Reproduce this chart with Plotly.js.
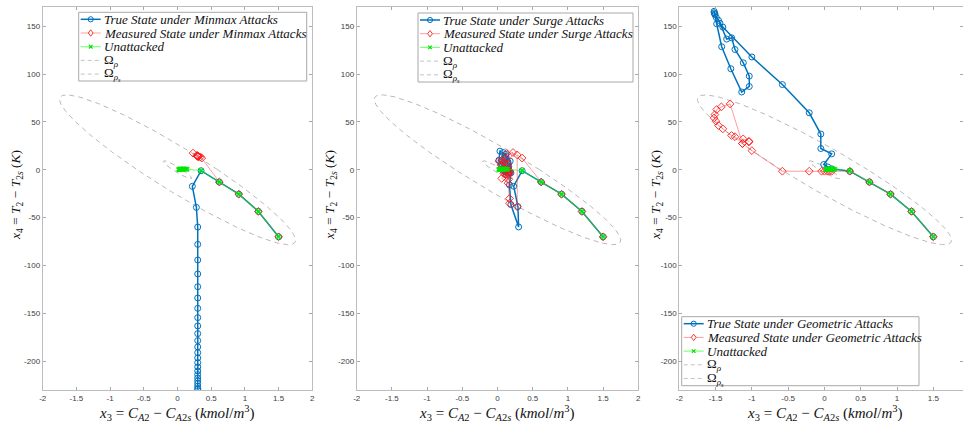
<!DOCTYPE html>
<html><head><meta charset="utf-8">
<script src="https://cdn.plot.ly/plotly-3.0.1.min.js"></script>
<style>html,body{margin:0;padding:0;background:#fff;} #chart{width:963px;height:428px;}</style>
</head><body><div id="chart"></div>
<script>
// ---------------- data ----------------
const xTickVals = [-2,-1.5,-1,-0.5,0,0.5,1,1.5,2];
const xTickText = ['-2','-1.5','-1','-0.5','0','0.5','1','1.5','2'];
const yTickVals = [-200,-150,-100,-50,0,50,100,150];
const yTickText = ['-200','-150','-100','-50','0','50','100','150'];

// Level sets  x' P x = rho   (P = [[pA,pB],[pB,pC]])
const pA = 2.796, pB = 0.0588, pC = 0.0014;
const rhoLevel = 1.0;
const rhoSLevel = 0.0145;

// Unattacked trajectory
const unattX = [1.5,1.2,0.91,0.62,0.35,0.14,0.12,0.10,0.085,0.07,0.06,0.05,0.042,0.035,0.03,0.025,0.02];
const unattY = [-70,-43.5,-25.5,-12.8,-1,0.6,0.7,0.7,0.7,0.6,0.6,0.5,0.5,0.4,0.4,0.3,0.3];

// Minmax attacks
const minmaxTrueX = [1.5,1.2,0.91,0.62,0.35,0.22,0.28,0.30,0.30,0.30,0.30,0.30,0.30,0.30,0.30,0.30,0.30,0.30,0.30,0.30,0.30,0.30,0.30,0.30,0.30,0.30,0.30,0.30,0.30,0.30,0.30];
const minmaxTrueY = [-70,-43.5,-25.5,-12.8,-1,-17.3,-39.3,-59.8,-77.9,-94.2,-108.8,-122.1,-133.9,-144.7,-154.4,-163.1,-171.1,-178.4,-185.0,-191.0,-196.5,-201.4,-205.9,-210.1,-213.9,-217.4,-220.5,-223.3,-226.1,-228.5,-229.5];
const minmaxMeasX = [1.5,1.2,0.91,0.62,0.36,0.23,0.29,0.31,0.34,0.30,0.29,0.30,0.31,0.30];
const minmaxMeasY = [-70,-43.5,-25.5,-12.8,12.2,17.4,15.0,14.0,13.3,14.2,14.8,14.3,13.6,14.0];

// Surge attacks
const surgeTrueX = [1.5,1.2,0.91,0.62,0.35,0.23,0.29,0.30,0.19,0.17,0.19,0.18,0.12,0.035,0.02,0.06,0.10,0.15,0.12,0.08,0.05,0.09,0.13,0.16,0.17,0.12,0.08,0.06,0.10,0.14,0.16,0.12,0.11,0.13,0.14,0.13];
const surgeTrueY = [-70,-43.5,-25.5,-12.8,-1,-17.2,-38.5,-59.7,-36.3,-15.8,-3.2,9,16,19.4,10,6,10,8,14,18,8,2,5,3,-3,-5,-1,4,12,7,-3,0,-2,1,0,-1];
const surgeMeasX = [1.5,1.2,0.91,0.62,0.35,0.28,0.28,0.17,0.17,0.15,0.06,0.09,0.05,0.02,0.12,0.13,0.22,0.15,0.08,0.12,0.16,0.17,0.14,0.10,0.06,0.12,0.16,0.13,0.17,0.15,0.16];
const surgeMeasY = [-70,-43.5,-25.5,-12.8,12.2,15.5,-38.5,-35,-30,-14,-9,-4,5,9,12,17,18,6,1,-3,-5,-1,3,8,10,-2,-10,-6,-3,0,-2];

// Geometric attacks
const geoTrueX = [1.5,1.2,0.91,0.62,0.35,0.10,0.045,-0.01,0.10,-0.05,-0.05,-0.21,-0.58,-1.0,-1.40,-1.46,-1.49,-1.51,-1.52,-1.52,-1.51,-1.485,-1.416,-1.29,-1.14,-1.036,-1.036,-1.118,-1.233,-1.278,-1.347,-1.44];
const geoTrueY = [-70,-43.5,-25.5,-12.8,-1.5,1,3,5.5,16.6,22.2,37.3,59.5,89,117.8,149,156,159,162,164,165.5,163,152.5,128.5,105.5,81.2,87,97.8,111.7,125.6,137.8,136.5,153];
const geoMeasX = [1.5,1.2,0.91,0.62,0.35,0.10,0.07,0.04,0.0,-0.04,-0.21,-0.58,-1.0,-1.13,-1.233,-1.28,-1.40,-1.46,-1.495,-1.52,-1.51,-1.485,-1.42,-1.30,-1.13,-1.12,-1.04,-1.04];
const geoMeasY = [-70,-43.5,-25.5,-12.8,-1.5,-1.5,-1.5,-1.5,-1.5,-1.5,-1.5,-1.5,20,27.4,34.5,35.8,42.7,46.2,50.7,54.2,57.7,62.9,65.7,68.8,27.4,32.3,29.8,29.0];

const attackNames = ['Minmax','Surge','Geometric'];

// ---------------- helpers ----------------
function levelSet(rho){
  const L11 = Math.sqrt(pA), L21 = pB/Math.sqrt(pA), L22 = Math.sqrt(pC - pB*pB/pA);
  const xs=[], ys=[], s=Math.sqrt(rho);
  for(let k=0;k<=360;k++){
    const t=k*Math.PI/180, u1=s*Math.cos(t), u2=s*Math.sin(t);
    const x2=u2/L22, x1=(u1-L21*x2)/L11;
    xs.push(x1); ys.push(x2);
  }
  return {x:xs,y:ys};
}
const bigE = levelSet(rhoLevel), smallE = levelSet(rhoSLevel);

const BLUE='#0072BD';
const W=963, H=428;
const PX = p=>p/W, PY = p=>1-p/H;

const sets = [
  {tx:minmaxTrueX, ty:minmaxTrueY, mx:minmaxMeasX, my:minmaxMeasY},
  {tx:surgeTrueX, ty:surgeTrueY, mx:surgeMeasX, my:surgeMeasY},
  {tx:geoTrueX, ty:geoTrueY, mx:geoMeasX, my:geoMeasY}
];

const traces=[];
sets.forEach((s,i)=>{
  const xa = i===0?'x':'x'+(i+1), ya = i===0?'y':'y'+(i+1);
  const dash = {color:'#b8b8b8', width:1, dash:'5px,4px'};
  traces.push({x:bigE.x, y:bigE.y, xaxis:xa, yaxis:ya, mode:'lines', line:dash, name:'Ω_ρ', showlegend:false, hoverinfo:'skip'});
  traces.push({x:smallE.x, y:smallE.y, xaxis:xa, yaxis:ya, mode:'lines', line:dash, name:'Ω_ρs', showlegend:false, hoverinfo:'skip'});
  traces.push({x:s.tx, y:s.ty, xaxis:xa, yaxis:ya, mode:'lines+markers', name:'True State under '+attackNames[i]+' Attacks', showlegend:false,
    line:{color:BLUE, width:1.5}, marker:{symbol:'circle-open', size:6, color:BLUE, line:{width:1, color:BLUE}}});
  traces.push({x:s.mx, y:s.my, xaxis:xa, yaxis:ya, mode:'lines+markers', name:'Measured State under '+attackNames[i]+' Attacks', showlegend:false,
    line:{color:'rgba(255,60,60,0.5)', width:1}, marker:{symbol:'diamond-open', size:6, color:'rgba(255,20,20,0.85)', line:{width:1, color:'rgba(255,20,20,0.85)'}}});
  traces.push({x:unattX, y:unattY, xaxis:xa, yaxis:ya, mode:'lines+markers', name:'Unattacked', showlegend:false,
    line:{color:'rgba(0,255,0,0.5)', width:1.2}, marker:{symbol:'x', size:5, color:'rgba(0,230,0,0.9)', line:{width:0}}});
});

const axBase = {
  showline:true, linecolor:'#bdbdbd', linewidth:1, mirror:'ticks',
  ticks:'inside', ticklen:3, tickcolor:'#a8a8a8', tickwidth:1,
  showgrid:false, zeroline:false, fixedrange:true,
  tickfont:{family:'Liberation Sans', size:8, color:'#404040'}
};
const yDom=[1-390/H, 1-7/H];
const xDoms=[[42.7/W,312.3/W],[356.7/W,638.3/W],[679.3/W,1]];
const xRanges=[[-2,2],[-2,2],[-2,1.909]];

const layout = {width:W, height:H, margin:{l:0,r:0,t:0,b:0}, paper_bgcolor:'#fff', plot_bgcolor:'#fff', showlegend:false, shapes:[], annotations:[]};
for(let i=0;i<3;i++){
  const sx = i===0?'':String(i+1);
  layout['xaxis'+sx] = Object.assign({}, axBase, {domain:xDoms[i], range:xRanges[i], anchor:'y'+sx, tickvals:xTickVals, ticktext:xTickText});
  layout['yaxis'+sx] = Object.assign({}, axBase, {domain:yDom, range:[-230,170], anchor:'x'+sx, tickvals:yTickVals, ticktext:yTickText});
}

// axis titles
const serif = 'Liberation Serif';
const xTitle = '<i>x</i><sub>3</sub> = <i>C</i><sub><i>A</i>2</sub> − <i>C</i><sub><i>A</i>2<i>s</i></sub> (<i>kmol</i>/<i>m</i><sup>3</sup>)';
const yTitle = '<i>x</i><sub>4</sub> = <i>T</i><sub>2</sub> − <i>T</i><sub>2<i>s</i></sub> (<i>K</i>)';
const xTitleCx=[177,497.5,824.5], yTitleCx=[16,330,656];
for(let i=0;i<3;i++){
  layout.annotations.push({xref:'paper',yref:'paper',x:PX(xTitleCx[i]),y:PY(413),xanchor:'center',yanchor:'middle',showarrow:false,text:xTitle,font:{family:serif,size:15,color:'#111'}});
  layout.annotations.push({xref:'paper',yref:'paper',x:PX(yTitleCx[i]),y:PY(195),xanchor:'center',yanchor:'middle',showarrow:false,textangle:-90,text:yTitle,font:{family:serif,size:13.5,color:'#111'}});
}

// custom compact legends (MATLAB style)
const legBoxes=[[78.7,12.3,228,68.7],[418,13,215,69],[681.7,316.7,237.3,69]];
function addLegend(i){
  const [L,T,Wd,Ht]=legBoxes[i];
  const sh=layout.shapes, an=layout.annotations;
  sh.push({type:'rect',xref:'paper',yref:'paper',layer:'above',x0:PX(L),x1:PX(L+Wd),y0:PY(T+Ht),y1:PY(T),line:{color:'#a8a8a8',width:1},fillcolor:'#fff'});
  const labels=['<i>True State under '+attackNames[i]+' Attacks</i>','<i>Measured State under '+attackNames[i]+' Attacks</i>','<i>Unattacked</i>','Ω<sub><i>ρ</i></sub>','Ω<sub><i>ρ<sub>s</sub></i></sub>'];
  const lineStyles=[{color:BLUE,width:1.5},{color:'rgba(255,60,60,0.5)',width:1},{color:'rgba(0,255,0,0.5)',width:1.2},{color:'#c4c4c4',width:1,dash:'4px,3px'},{color:'#c4c4c4',width:1,dash:'4px,3px'}];
  for(let k=0;k<5;k++){
    const cy=T+7+k*13.7, x0=L+2, x1=L+22, cx=L+12;
    sh.push({type:'line',xref:'paper',yref:'paper',layer:'above',x0:PX(x0),x1:PX(x1),y0:PY(cy),y1:PY(cy),line:lineStyles[k]});
    const r=2.6;
    if(k===0) sh.push({type:'circle',xref:'paper',yref:'paper',layer:'above',x0:PX(cx-r),x1:PX(cx+r),y0:PY(cy+r),y1:PY(cy-r),line:{color:BLUE,width:1}});
    if(k===1){
      const d=3.2;
      sh.push({type:'path',xref:'paper',yref:'paper',layer:'above',path:`M${PX(cx)},${PY(cy-d)} L${PX(cx+d*0.75)},${PY(cy)} L${PX(cx)},${PY(cy+d)} L${PX(cx-d*0.75)},${PY(cy)} Z`,line:{color:'rgba(255,20,20,0.85)',width:1},fillcolor:'#fff'});
    }
    if(k===2){
      const d=1.8;
      sh.push({type:'path',xref:'paper',yref:'paper',layer:'above',path:`M${PX(cx-d)},${PY(cy-d)} L${PX(cx+d)},${PY(cy+d)} M${PX(cx-d)},${PY(cy+d)} L${PX(cx+d)},${PY(cy-d)}`,line:{color:'#00e000',width:1.2}});
    }
    an.push({xref:'paper',yref:'paper',x:PX(L+23),y:PY(cy),xanchor:'left',yanchor:'middle',showarrow:false,text:labels[k],font:{family:serif,size:13,color:'#111'}});
  }
}
for(let i=0;i<3;i++) addLegend(i);

Plotly.newPlot('chart', traces, layout, {staticPlot:true, displayModeBar:false});
</script></body></html>
